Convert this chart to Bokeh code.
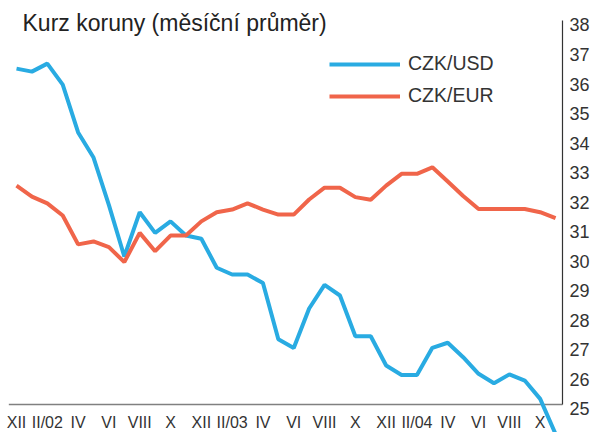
from bokeh.plotting import figure
from bokeh.models import Range1d, LinearAxis, FixedTicker, Legend, LegendItem, Label
from bokeh.embed import file_html
from bokeh.resources import INLINE

# Monthly averages, XII/2001 .. XI/2004
month_index = list(range(36))
czk_usd = [36.37, 36.27, 36.54, 35.83, 34.21, 33.36, 31.75, 30.01, 31.51, 30.81,
           31.20, 30.72, 30.61, 29.63, 29.40, 29.40, 29.11, 27.21, 26.91, 28.25,
           29.05, 28.69, 27.31, 27.31, 26.32, 26.00, 26.00, 26.92, 27.09, 26.60,
           26.04, 25.72, 26.02, 25.81, 25.19, 24.00]
czk_eur = [32.41, 32.04, 31.81, 31.40, 30.42, 30.52, 30.33, 29.82, 30.81, 30.19,
           30.72, 30.72, 31.20, 31.51, 31.60, 31.81, 31.60, 31.43, 31.43, 31.94,
           32.34, 32.34, 32.02, 31.93, 32.41, 32.81, 32.81, 33.03, 32.55, 32.06,
           31.62, 31.62, 31.62, 31.62, 31.51, 31.31]
tick_months = list(range(0, 36, 2))
tick_labels = ["XII", "II/02", "IV", "VI", "VIII", "X",
               "XII", "II/03", "IV", "VI", "VIII", "X",
               "XII", "II/04", "IV", "VI", "VIII", "X"]
y_ticks = list(range(25, 39))

BLUE = "#29abe2"
ORANGE = "#f0654a"
FONT = "Liberation Sans"

X0, X1 = -1.04, 35.58
AXIS_X = 35.45
Y0, Y1 = 24.052, 38.677

p = figure(width=607, height=432, output_backend="svg", toolbar_location=None,
           x_range=Range1d(X0, X1), y_range=Range1d(Y0, Y1),
           min_border_left=0, min_border_top=0, min_border_bottom=0, min_border_right=43,
           y_axis_location=None)
p.outline_line_color = None
p.xgrid.visible = False
p.ygrid.visible = False
p.background_fill_color = "white"
p.border_fill_color = "white"

# x axis labels under the y = 25 baseline
xa = p.xaxis[0]
xa.fixed_location = min(y_ticks)
xa.ticker = FixedTicker(ticks=tick_months)
xa.major_label_overrides = {m: lab for m, lab in zip(tick_months, tick_labels)}
xa.major_tick_in = 0
xa.major_tick_out = 0
xa.minor_tick_in = 0
xa.minor_tick_out = 0
xa.axis_line_color = None
xa.major_label_standoff = 10
xa.major_label_text_font = FONT
xa.major_label_text_font_size = "16px"
xa.major_label_text_color = "#333333"

# axis lines
p.segment(x0=[month_index[0] - 0.5], y0=[min(y_ticks)], x1=[AXIS_X], y1=[min(y_ticks)],
          line_color="#808080", line_width=1.5)
p.segment(x0=[AXIS_X], y0=[min(y_ticks)], x1=[AXIS_X], y1=[max(y_ticks)],
          line_color="#333333", line_width=1.2)

# tick labels on right (slightly lowered like in the original)
p.extra_y_ranges = {"lab": Range1d(Y0 + 0.152, Y1 + 0.152)}
ylab = LinearAxis(y_range_name="lab", ticker=FixedTicker(ticks=y_ticks),
                  axis_line_color=None, major_tick_in=0, major_tick_out=0,
                  minor_tick_in=0, minor_tick_out=0, major_label_standoff=5,
                  major_label_text_font=FONT, major_label_text_font_size="18px",
                  major_label_text_color="#333333")
p.add_layout(ylab, "right")

r_usd = p.line(month_index, czk_usd, line_color=BLUE, line_width=4)
r_eur = p.line(month_index, czk_eur, line_color=ORANGE, line_width=4)

legend = Legend(items=[LegendItem(label="CZK/USD", renderers=[r_usd]),
                       LegendItem(label="CZK/EUR", renderers=[r_eur])],
                location=(329, 325), padding=0, margin=0, border_line_color=None,
                background_fill_alpha=0, glyph_width=71, glyph_height=20,
                label_height=20, label_standoff=8, spacing=9,
                label_text_font=FONT, label_text_font_size="19.5px",
                label_text_color="#333333", label_text_baseline="middle")
p.add_layout(legend)

title = Label(x=22, y=410, x_units="screen", y_units="screen",
              text="Kurz koruny (měsíční průměr)", text_font=FONT,
              text_font_size="23px", text_color="#222222",
              text_baseline="alphabetic")
p.add_layout(title)

open("out.html", "w").write(file_html(p, INLINE))
